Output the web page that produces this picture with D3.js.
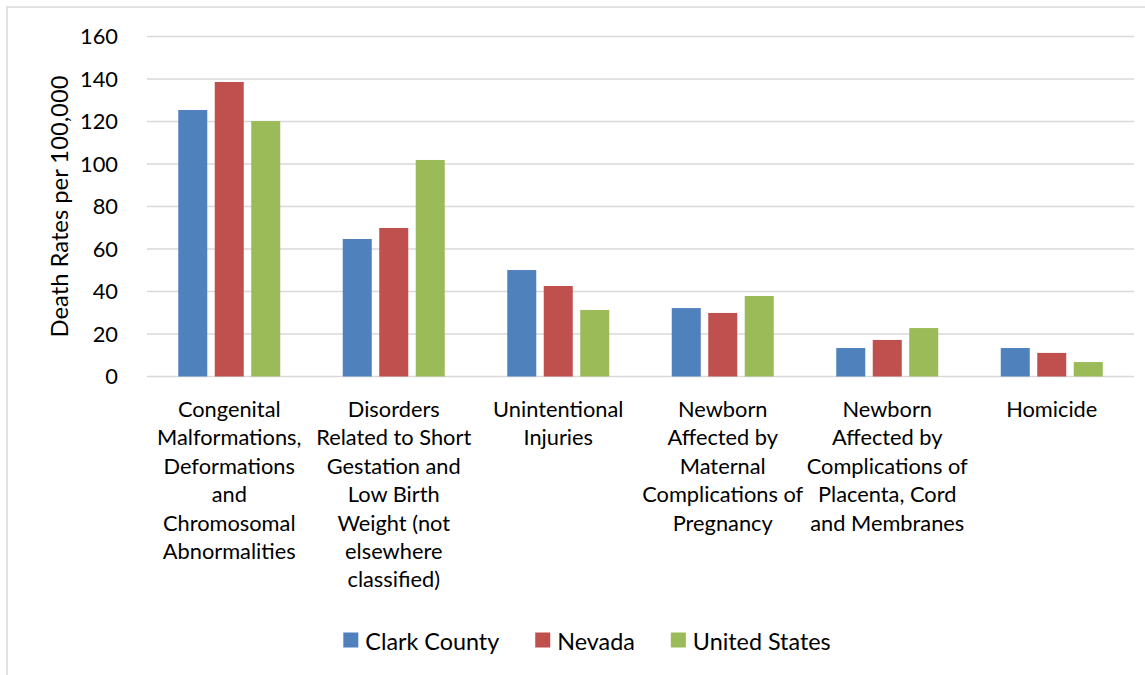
<!DOCTYPE html>
<html>
<head>
<meta charset="utf-8">
<script src="https://cdn.jsdelivr.net/npm/d3@7"></script>
<style>
  html, body { margin: 0; padding: 0; background: #fff; }
  svg { display: block; }
</style>
</head>
<body>
<svg id="chart" width="1145" height="675"></svg>
<script>
// ---- Data ----
const categories = [
  "Congenital\nMalformations,\nDeformations\nand\nChromosomal\nAbnormalities",
  "Disorders\nRelated to Short\nGestation and\nLow Birth\nWeight (not\nelsewhere\nclassified)",
  "Unintentional\nInjuries",
  "Newborn\nAffected by\nMaternal\nComplications of\nPregnancy",
  "Newborn\nAffected by\nComplications of\nPlacenta, Cord\nand Membranes",
  "Homicide"
];
const seriesNames = ["Clark County", "Nevada", "United States"];
const clarkCounty = [125.4, 64.7, 50.1, 32.2, 13.4, 13.4];
const nevada      = [138.6, 69.9, 42.6, 29.9, 17.2, 11.1];
const unitedStates= [120.2, 101.9, 31.3, 37.9, 22.8, 6.8];
const yTicks = [0, 20, 40, 60, 80, 100, 120, 140, 160];
const yTitle = "Death Rates per 100,000";
const colors = ["#4F81BD", "#C0504D", "#9BBB59"];

const seriesValues = [clarkCounty, nevada, unitedStates];

// ---- Setup ----
const FONT = "Lato, 'Open Sans', sans-serif";
const svg = d3.select("#chart");

function fitSize(text, target) {
  const t = svg.append("text").attr("font-family", FONT).attr("font-size", 100).text(text);
  const w = t.node().getComputedTextLength();
  t.remove();
  return 100 * target / w;
}
const catSize = fitSize("Abnormalities", 133);
const tickSize = fitSize("160", 38);
const legendSize = fitSize("Clark County", 134);
const titleSize = fitSize(yTitle, 262);

// chart border
svg.append("rect")
  .attr("x", 7).attr("y", 7).attr("width", 1200).attr("height", 700)
  .attr("fill", "none").attr("stroke", "#d9d9d9").attr("stroke-width", 1.5);

const x0 = d3.scaleBand().domain(d3.range(categories.length)).range([147, 1134]).padding(0);
const bw = x0.bandwidth();
const x1 = d3.scaleBand().domain(d3.range(seriesNames.length))
  .range([bw * 0.19, bw * 0.81]).paddingInner(0.205).paddingOuter(0);
const y = d3.scaleLinear().domain([0, 160]).range([376.5, 36.5]);

// gridlines
svg.append("g").selectAll("line").data(yTicks).join("line")
  .attr("x1", 147).attr("x2", 1134)
  .attr("y1", d => y(d)).attr("y2", d => y(d))
  .attr("stroke", "#d9d9d9").attr("stroke-width", 1.6);

// y tick labels
svg.append("g").selectAll("text").data(yTicks).join("text")
  .attr("x", 118).attr("y", d => y(d) + tickSize * 0.36)
  .attr("text-anchor", "end")
  .attr("font-family", FONT).attr("font-size", tickSize).attr("fill", "#000")
  .text(d => d);

// y title
svg.append("text")
  .attr("transform", `translate(67.5, ${(y(0) + y(160)) / 2}) rotate(-90)`)
  .attr("text-anchor", "middle")
  .attr("font-family", FONT).attr("font-size", titleSize).attr("fill", "#000")
  .text(yTitle);

// bars
const groups = svg.append("g").selectAll("g").data(categories).join("g")
  .attr("transform", (d, i) => `translate(${x0(i)},0)`);
groups.selectAll("rect")
  .data((d, i) => seriesValues.map((s, j) => ({ j, v: s[i] })))
  .join("rect")
  .attr("x", d => x1(d.j))
  .attr("width", x1.bandwidth())
  .attr("y", d => y(d.v))
  .attr("height", d => y(0) - y(d.v))
  .attr("fill", d => colors[d.j]);

// category labels
const lineH = 28.4;
svg.append("g").selectAll("text").data(categories).join("text")
  .attr("x", (d, i) => x0(i) + bw / 2)
  .attr("y", 417)
  .attr("text-anchor", "middle")
  .attr("font-family", FONT).attr("font-size", catSize).attr("fill", "#000")
  .each(function(d, i) {
    const el = d3.select(this);
    d.split("\n").forEach((line, k) => {
      el.append("tspan").attr("x", x0(i) + bw / 2).attr("y", 417 + k * lineH).text(line);
    });
  });

// legend
const legend = svg.append("g");
const sq = 15, gapSq = 7, gapItem = 36;
let cx = 0;
const items = seriesNames.map((name, j) => {
  const g = legend.append("g");
  g.append("rect").attr("x", cx).attr("y", 632.5).attr("width", sq).attr("height", sq).attr("fill", colors[j]);
  const t = g.append("text").attr("x", cx + sq + gapSq).attr("y", 649.5)
    .attr("font-family", FONT).attr("font-size", legendSize).attr("fill", "#000").text(name);
  const w = t.node().getComputedTextLength();
  cx += sq + gapSq + w + gapItem;
  return g;
});
const totalW = cx - gapItem;
legend.attr("transform", `translate(${587 - totalW / 2},0)`);
</script>
</body>
</html>
